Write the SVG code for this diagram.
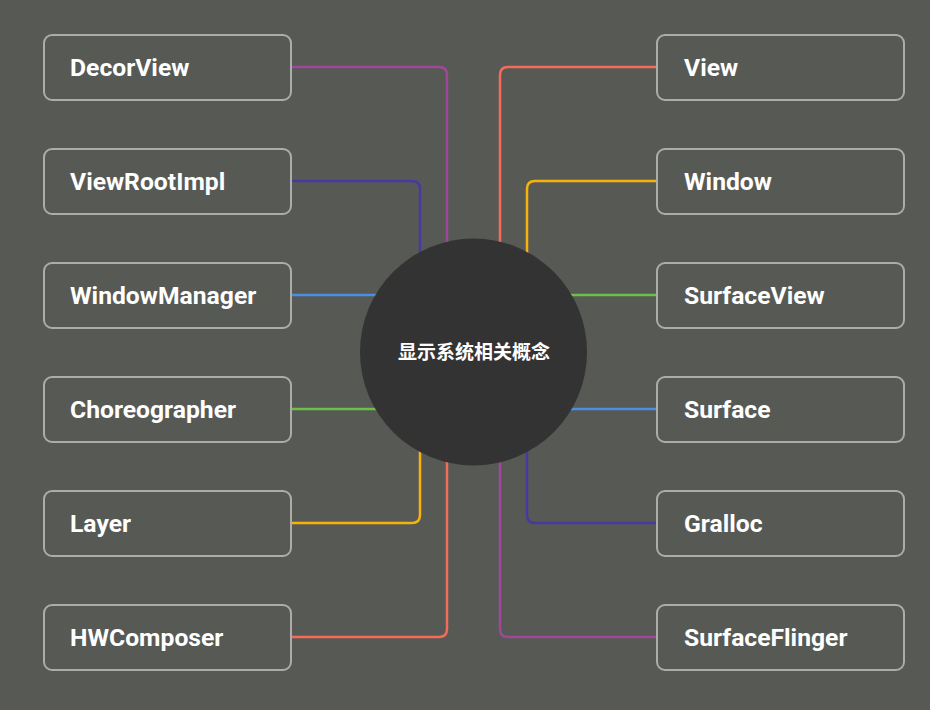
<svg xmlns="http://www.w3.org/2000/svg" width="930" height="710" viewBox="0 0 930 710">
<style>
.bg{fill:#575955}
.box{fill:#575955;stroke:#acadaa;stroke-width:2}
.lbl{font-family:Roboto,"Liberation Sans",sans-serif;font-weight:bold;font-size:24.7px;fill:#ffffff}
.ln{fill:none;stroke-width:2.5}
.c1{stroke:#a0479a}.c2{stroke:#4738a3}.c3{stroke:#4a90e2}.c4{stroke:#6cc04a}.c5{stroke:#f5b30c}.c6{stroke:#f46b5a}
.hub{fill:#333333}
.hubt{font-family:"Noto Sans CJK SC",sans-serif;font-weight:bold;font-size:19px;fill:#ffffff}
</style>
<rect class="bg" x="0" y="0" width="930" height="710"/>
<g id="connectors">
<path class="ln c1" d="M291,67 H439 Q447,67 447,75 V300"/>
<path class="ln c2" d="M291,181 H412 Q420,181 420,189 V300"/>
<path class="ln c3" d="M291,295 H400"/>
<path class="ln c4" d="M291,409 H400"/>
<path class="ln c5" d="M291,523 H412 Q420,523 420,515 V400"/>
<path class="ln c6" d="M291,637 H439 Q447,637 447,629 V400"/>
<path class="ln c6" d="M657,67 H508 Q500,67 500,75 V300"/>
<path class="ln c5" d="M657,181 H535 Q527,181 527,189 V300"/>
<path class="ln c4" d="M657,295 H540"/>
<path class="ln c3" d="M657,409 H540"/>
<path class="ln c2" d="M657,523 H535 Q527,523 527,515 V400"/>
<path class="ln c1" d="M657,637 H508 Q500,637 500,629 V400"/>
</g>
<g id="hub">
<circle class="hub" cx="473.5" cy="352" r="113.5"/>
<text class="hubt" x="474" y="359" text-anchor="middle">显示系统相关概念</text>
</g>
<g id="n-decorview"><rect class="box" x="44" y="35" width="247" height="65" rx="8"/><text class="lbl" x="70" y="76">DecorView</text></g>
<g id="n-viewrootimpl"><rect class="box" x="44" y="149" width="247" height="65" rx="8"/><text class="lbl" x="70" y="190">ViewRootImpl</text></g>
<g id="n-windowmanager"><rect class="box" x="44" y="263" width="247" height="65" rx="8"/><text class="lbl" x="70" y="304">WindowManager</text></g>
<g id="n-choreographer"><rect class="box" x="44" y="377" width="247" height="65" rx="8"/><text class="lbl" x="70" y="418">Choreographer</text></g>
<g id="n-layer"><rect class="box" x="44" y="491" width="247" height="65" rx="8"/><text class="lbl" x="70" y="532">Layer</text></g>
<g id="n-hwcomposer"><rect class="box" x="44" y="605" width="247" height="65" rx="8"/><text class="lbl" x="70" y="646">HWComposer</text></g>
<g id="n-view"><rect class="box" x="657" y="35" width="247" height="65" rx="8"/><text class="lbl" x="684" y="76">View</text></g>
<g id="n-window"><rect class="box" x="657" y="149" width="247" height="65" rx="8"/><text class="lbl" x="684" y="190">Window</text></g>
<g id="n-surfaceview"><rect class="box" x="657" y="263" width="247" height="65" rx="8"/><text class="lbl" x="684" y="304">SurfaceView</text></g>
<g id="n-surface"><rect class="box" x="657" y="377" width="247" height="65" rx="8"/><text class="lbl" x="684" y="418">Surface</text></g>
<g id="n-gralloc"><rect class="box" x="657" y="491" width="247" height="65" rx="8"/><text class="lbl" x="684" y="532">Gralloc</text></g>
<g id="n-surfaceflinger"><rect class="box" x="657" y="605" width="247" height="65" rx="8"/><text class="lbl" x="684" y="646">SurfaceFlinger</text></g>
</svg>
